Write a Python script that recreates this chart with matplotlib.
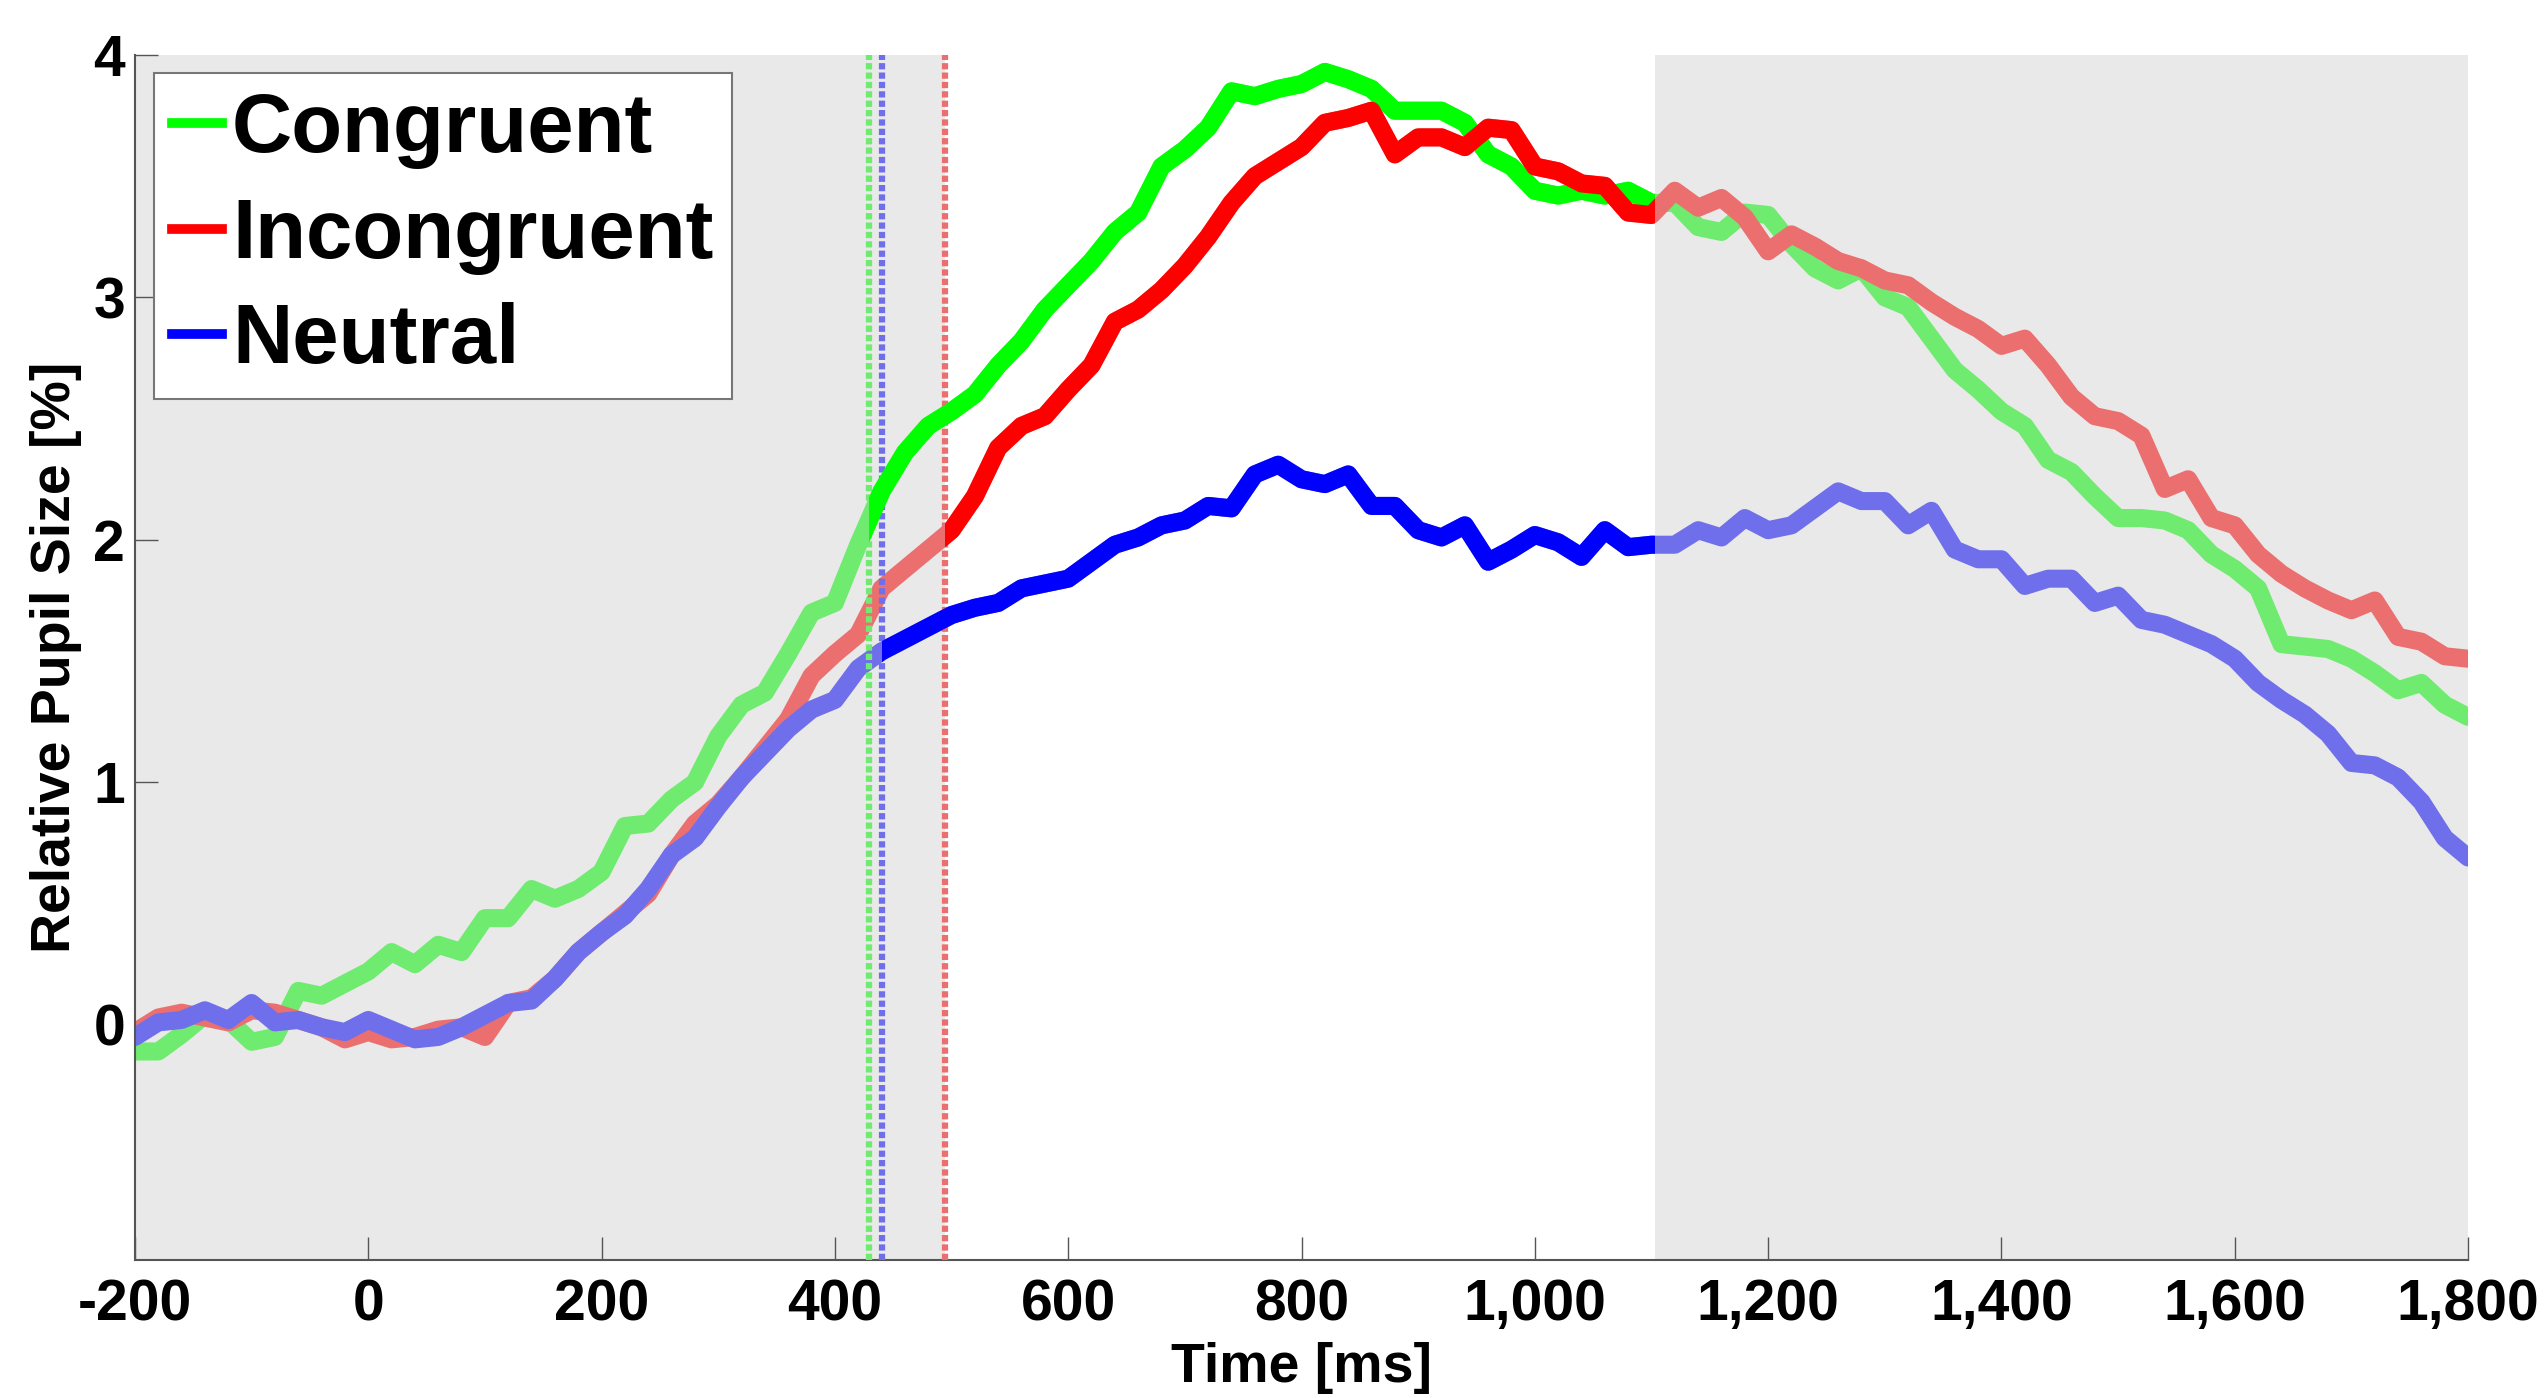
import numpy as np
import matplotlib
matplotlib.use("Agg")
import matplotlib.pyplot as plt
from matplotlib.lines import Line2D
from matplotlib.patches import Rectangle
from matplotlib.ticker import FuncFormatter

plt.rcParams['font.family'] = ['Liberation Sans', 'DejaVu Sans']
plt.rcParams['font.weight'] = 'bold'

# time axis (ms), one sample every 20 ms
time_ms = np.arange(-200, 1801, 20)

congruent = [
    -0.11, -0.11, -0.04, 0.04, 0.02, -0.07, -0.05, 0.14, 0.12, 0.17,
    0.22, 0.30, 0.25, 0.33, 0.30, 0.44, 0.44, 0.56, 0.52, 0.56,
    0.63, 0.82, 0.83, 0.93, 1.00, 1.19, 1.32, 1.37, 1.53, 1.70,
    1.74, 1.98, 2.20, 2.36, 2.47, 2.53, 2.60, 2.72, 2.82, 2.95,
    3.05, 3.15, 3.27, 3.35, 3.54, 3.61, 3.70, 3.85, 3.83, 3.86,
    3.88, 3.93, 3.90, 3.86, 3.77, 3.77, 3.77, 3.72, 3.59, 3.54,
    3.44, 3.42, 3.44, 3.42, 3.44, 3.39, 3.39, 3.29, 3.27, 3.35,
    3.34, 3.22, 3.12, 3.07, 3.12, 3.00, 2.96, 2.83, 2.70, 2.62,
    2.53, 2.47, 2.33, 2.28, 2.18, 2.09, 2.09, 2.08, 2.04, 1.94,
    1.88, 1.80, 1.57, 1.56, 1.55, 1.51, 1.45, 1.38, 1.41, 1.32,
    1.27,
]

incongruent = [
    -0.03, 0.03, 0.05, 0.03, 0.01, 0.06, 0.05, 0.02, -0.01, -0.06,
    -0.03, -0.06, -0.05, -0.02, -0.01, -0.05, 0.09, 0.11, 0.19, 0.30,
    0.38, 0.46, 0.54, 0.70, 0.83, 0.91, 1.02, 1.14, 1.26, 1.44,
    1.53, 1.61, 1.80, 1.88, 1.96, 2.04, 2.18, 2.38, 2.47, 2.51,
    2.62, 2.72, 2.90, 2.95, 3.03, 3.13, 3.25, 3.39, 3.50, 3.56,
    3.62, 3.72, 3.74, 3.77, 3.59, 3.66, 3.66, 3.62, 3.70, 3.69,
    3.54, 3.52, 3.47, 3.46, 3.35, 3.34, 3.44, 3.37, 3.41, 3.33,
    3.19, 3.26, 3.21, 3.15, 3.12, 3.07, 3.05, 2.98, 2.92, 2.87,
    2.80, 2.83, 2.72, 2.59, 2.51, 2.49, 2.43, 2.21, 2.25, 2.09,
    2.06, 1.94, 1.86, 1.80, 1.75, 1.71, 1.75, 1.60, 1.58, 1.52,
    1.51,
]

neutral = [
    -0.05, 0.01, 0.02, 0.06, 0.02, 0.09, 0.01, 0.02, -0.01, -0.03,
    0.02, -0.02, -0.06, -0.05, -0.01, 0.04, 0.09, 0.10, 0.19, 0.30,
    0.38, 0.45, 0.56, 0.70, 0.77, 0.90, 1.02, 1.12, 1.22, 1.30,
    1.34, 1.47, 1.54, 1.59, 1.64, 1.69, 1.72, 1.74, 1.80, 1.82,
    1.84, 1.91, 1.98, 2.01, 2.06, 2.08, 2.14, 2.13, 2.27, 2.31,
    2.25, 2.23, 2.27, 2.14, 2.14, 2.04, 2.01, 2.06, 1.91, 1.96,
    2.02, 1.99, 1.93, 2.04, 1.97, 1.98, 1.98, 2.04, 2.01, 2.09,
    2.04, 2.06, 2.13, 2.20, 2.16, 2.16, 2.06, 2.12, 1.96, 1.92,
    1.92, 1.81, 1.84, 1.84, 1.74, 1.77, 1.67, 1.65, 1.61, 1.57,
    1.51, 1.41, 1.34, 1.28, 1.20, 1.08, 1.07, 1.02, 0.92, 0.77,
    0.69,
]

labels = ['Congruent', 'Incongruent', 'Neutral']
series = [congruent, incongruent, neutral]
colors = ['#00ff00', '#ff0000', '#0000ff']
faded = ['#6feb6f', '#eb6f6f', '#6f6feb']
# onset of the significant divergence per condition (ms)
onsets = [429, 494, 440]
window_end = 1103

fig = plt.figure(figsize=(25.46, 13.98), dpi=100)
ax = fig.add_axes([0.0530, 0.0987, 0.9164, 0.8620])

xmin, xmax = -200, 1800
ymin, ymax = -0.97, 4

ax.axvspan(xmin, max(onsets), color='#e9e9e9', lw=0, zorder=0)
ax.axvspan(window_end, xmax, color='#e9e9e9', lw=0, zorder=0)

# faded traces first, onset markers, then the solid part inside the window
for y, fc in zip(series, faded):
    ax.plot(time_ms, y, color=fc, lw=13, solid_joinstyle='round',
            solid_capstyle='round', zorder=2)

for t0, fc in zip(onsets, faded):
    ax.axvline(t0, color=fc, lw=4.5, dashes=(1.0, 0.5), zorder=3)

for y, c, t0 in zip(series, colors, onsets):
    ln, = ax.plot(time_ms, y, color=c, lw=13, solid_joinstyle='round',
                  solid_capstyle='butt', zorder=4)
    clip = Rectangle((t0, ymin), window_end - t0, ymax - ymin,
                     transform=ax.transData, facecolor='none', edgecolor='none')
    ax.add_patch(clip)
    ln.set_clip_path(clip)

ax.set_xlim(xmin, xmax)
ax.set_ylim(ymin, ymax)
ax.set_xticks(range(-200, 1801, 200))
ax.set_yticks([0, 1, 2, 3, 4])
ax.xaxis.set_major_formatter(FuncFormatter(lambda v, p: f'{int(v):,}'))

for side in ['top', 'right']:
    ax.spines[side].set_visible(False)
for side in ['left', 'bottom']:
    ax.spines[side].set_color('#555555')
    ax.spines[side].set_linewidth(1.5)
ax.tick_params(axis='both', direction='in', length=16.5, width=1, color='#555555',
               labelsize=41)
ax.tick_params(axis='x', pad=13)
ax.tick_params(axis='y', pad=7)

ax.set_xlabel('Time [ms]', fontsize=40, fontweight='bold')
ax.set_ylabel('Relative Pupil Size [%]', fontsize=40, fontweight='bold')
ax.xaxis.set_label_coords(0.5, -0.068)
ax.yaxis.set_label_coords(-0.0225, 0.5)

handles = [Line2D([], [], color=c, lw=7) for c in colors]
leg = ax.legend(handles, labels, loc='upper left', bbox_to_anchor=(0.008, 0.985),
                fontsize=60, handlelength=0.6, handletextpad=0.12,
                labelspacing=0.33, borderpad=0.22, borderaxespad=0,
                fancybox=False, framealpha=1, edgecolor='#777777')
leg.get_frame().set_linewidth(1.5)
for txt in leg.get_texts():
    txt.set_fontweight('bold')

fig.savefig('out.png', dpi=100)
